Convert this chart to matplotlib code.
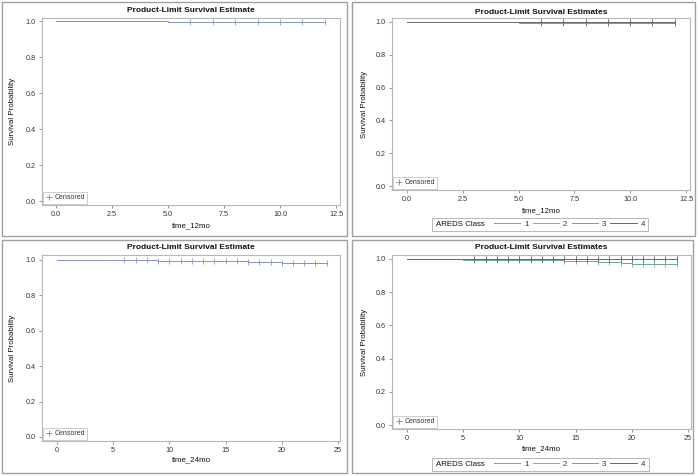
import matplotlib
matplotlib.use('Agg')
import matplotlib.pyplot as plt
from matplotlib.lines import Line2D
from matplotlib.patches import Rectangle
import numpy as np

plt.rcParams['font.family'] = ['Liberation Sans', 'DejaVu Sans']

W, H = 700, 476

# ---------------- data ----------------
# Panel A: overall, 12 months
a_times = [0, 2, 5, 9]
a_surv = [1.0, 0.999, 0.997, 0.995]
a_end = 12
a_censor = [6, 7, 8, 9, 10, 11, 12]

# Panel B: by AREDS class, 12 months
classes = ['1', '2', '3', '4']
b_times = [[0], [0, 9], [0, 2, 5], [0]]
b_surv = [[1.0], [1.0, 0.995], [1.0, 0.998, 0.995], [1.0]]
b_end = 12
b_censor = [6, 7, 8, 9, 10, 11, 12]

# Panel C: overall, 24 months
c_times = [0, 5, 9, 14, 17, 20]
c_surv = [1.0, 0.997, 0.995, 0.993, 0.990, 0.983]
c_end = 24
c_censor = [6, 7, 8, 9, 10, 11, 12, 13, 14, 15, 16, 17, 18, 19, 20, 21, 22, 23, 24]

# Panel D: by AREDS class, 24 months
d_times = [[0, 14], [0, 10], [0, 2, 5, 14, 17, 19, 20], [0]]
d_surv = [[1.0, 0.998], [1.0, 0.997], [1.0, 0.998, 0.993, 0.990, 0.984, 0.977, 0.968], [1.0]]
d_end = 24
d_censor = [6, 7, 8, 9, 10, 11, 12, 13, 14, 15, 16, 17, 18, 19, 20, 21, 22, 23, 24]

single_color = '#8591c2'
class_colors = ['#8f9ac6', '#cc8c86', '#6aa59d', '#6e6864']

fig = plt.figure(figsize=(W / 100, H / 100), dpi=100)
fig.patch.set_facecolor('white')

FRAME = '#b8b8b8'
TXT = '#333333'


def px_ax(l, t, r, b):
    return fig.add_axes([l / W, 1 - b / H, (r - l) / W, (b - t) / H])


def fx(x):
    return x / W


def fy(y):
    return 1 - y / H


def surv_at(times, surv, t):
    i = np.searchsorted(times, t, side='right') - 1
    return surv[i]


def draw_curve(ax, times, surv, end, censor, color, z=2):
    xs = list(times) + [end]
    ys = list(surv) + [surv[-1]]
    ax.step(xs, ys, where='post', color=color, lw=0.7, zorder=z)
    cy = [surv_at(times, surv, t) for t in censor]
    ax.plot(censor, cy, linestyle='none', marker='|', color=color,
            markersize=4.0, mew=0.55, zorder=z)


def style_ax(ax, xlim, ylim, xticks, xticklabels):
    ax.set_xlim(*xlim)
    ax.set_ylim(*ylim)
    ax.set_xticks(xticks)
    ax.set_xticklabels(xticklabels)
    ax.set_yticks([0, 0.2, 0.4, 0.6, 0.8, 1.0])
    ax.set_yticklabels(['0.0', '0.2', '0.4', '0.6', '0.8', '1.0'])
    for s in ax.spines.values():
        s.set_color(FRAME)
        s.set_linewidth(0.8)
    ax.tick_params(length=2.5, width=0.6, color='#888888', labelsize=5.2,
                   labelcolor=TXT, pad=2)
    h = Line2D([], [], linestyle='none', marker='+', color='#888888',
               markersize=4, mew=0.6)
    leg = ax.legend([h], ['Censored'], loc='lower left', fontsize=5,
                    frameon=True, fancybox=False, handlelength=0.8,
                    handletextpad=0.4, borderpad=0.35, borderaxespad=0.2)
    leg.get_frame().set_edgecolor(FRAME)
    leg.get_frame().set_linewidth(0.6)
    for t in leg.get_texts():
        t.set_color(TXT)


def panel_box(l, t, r, b):
    fig.patches.append(Rectangle((fx(l), fy(b)), (r - l) / W, (b - t) / H,
                                 transform=fig.transFigure, fill=False,
                                 edgecolor='#a0a0a0', lw=1.0))


def class_legend(cy, box_l, box_r):
    handles = [Line2D([], [], color=c, lw=0.7) for c in class_colors]
    leg = fig.legend(handles, classes, ncol=4, loc='center left',
                     bbox_to_anchor=(fx(box_l + 62), fy(cy)), fontsize=5.7,
                     frameon=False, handlelength=3.3, handletextpad=0.5,
                     columnspacing=0.55, borderpad=0.0, borderaxespad=0.0)
    for t in leg.get_texts():
        t.set_color(TXT)
    fig.text(fx(box_l + 4), fy(cy), 'AREDS Class', fontsize=5.7, color='#111111',
             ha='left', va='center')
    fig.patches.append(Rectangle((fx(box_l), fy(cy + 6.5)), (box_r - box_l) / W, 13 / H,
                                 transform=fig.transFigure, fill=False,
                                 edgecolor=FRAME, lw=0.7))


# panel borders
panel_box(2, 2, 347, 236)
panel_box(352, 2, 695, 236)
panel_box(2, 240, 347, 473)
panel_box(352, 240, 693, 473)

# ---------- Panel A ----------
axA = px_ax(42, 18, 340, 205)
draw_curve(axA, a_times, a_surv, a_end, a_censor, single_color)
style_ax(axA, (-0.625, 12.68), (-0.022, 1.017), [0, 2.5, 5, 7.5, 10, 12.5],
         ['0.0', '2.5', '5.0', '7.5', '10.0', '12.5'])
fig.text(fx(191), fy(11), 'Product-Limit Survival Estimate', fontsize=6,
         fontweight='bold', ha='center', va='center', color='#111111')
fig.text(fx(191), fy(226), 'time_12mo', fontsize=5.7, ha='center', va='center', color='#111111')
fig.text(fx(13), fy(111), 'Survival Probability', fontsize=5.7, rotation=90,
         ha='center', va='center', color='#111111')

# ---------- Panel B ----------
axB = px_ax(392, 18, 690, 190)
for i in range(4):
    draw_curve(axB, b_times[i], b_surv[i], b_end, b_censor, class_colors[i], z=2 + i)
style_ax(axB, (-0.67, 12.68), (-0.024, 1.024), [0, 2.5, 5, 7.5, 10, 12.5],
         ['0.0', '2.5', '5.0', '7.5', '10.0', '12.5'])
fig.text(fx(541), fy(12), 'Product-Limit Survival Estimates', fontsize=6,
         fontweight='bold', ha='center', va='center', color='#111111')
fig.text(fx(541), fy(211), 'time_12mo', fontsize=5.7, ha='center', va='center', color='#111111')
fig.text(fx(364), fy(104), 'Survival Probability', fontsize=5.7, rotation=90,
         ha='center', va='center', color='#111111')
class_legend(224, 432, 648)

# ---------- Panel C ----------
axC = px_ax(42, 255, 340, 441)
draw_curve(axC, c_times, c_surv, c_end, c_censor, single_color)
style_ax(axC, (-1.33, 25.18), (-0.023, 1.028), [0, 5, 10, 15, 20, 25],
         ['0', '5', '10', '15', '20', '25'])
fig.text(fx(191), fy(247), 'Product-Limit Survival Estimate', fontsize=6,
         fontweight='bold', ha='center', va='center', color='#111111')
fig.text(fx(191), fy(460), 'time_24mo', fontsize=5.7, ha='center', va='center', color='#111111')
fig.text(fx(13), fy(348), 'Survival Probability', fontsize=5.7, rotation=90,
         ha='center', va='center', color='#111111')

# ---------- Panel D ----------
axD = px_ax(392, 255, 691, 429)
for i in range(4):
    draw_curve(axD, d_times[i], d_surv[i], d_end, d_censor, class_colors[i], z=2 + i)
style_ax(axD, (-1.33, 25.27), (-0.024, 1.024), [0, 5, 10, 15, 20, 25],
         ['0', '5', '10', '15', '20', '25'])
fig.text(fx(541), fy(247), 'Product-Limit Survival Estimates', fontsize=6,
         fontweight='bold', ha='center', va='center', color='#111111')
fig.text(fx(541), fy(449), 'time_24mo', fontsize=5.7, ha='center', va='center', color='#111111')
fig.text(fx(364), fy(342), 'Survival Probability', fontsize=5.7, rotation=90,
         ha='center', va='center', color='#111111')
class_legend(464, 432, 649)

fig.savefig('out.png', dpi=100, facecolor='white')
